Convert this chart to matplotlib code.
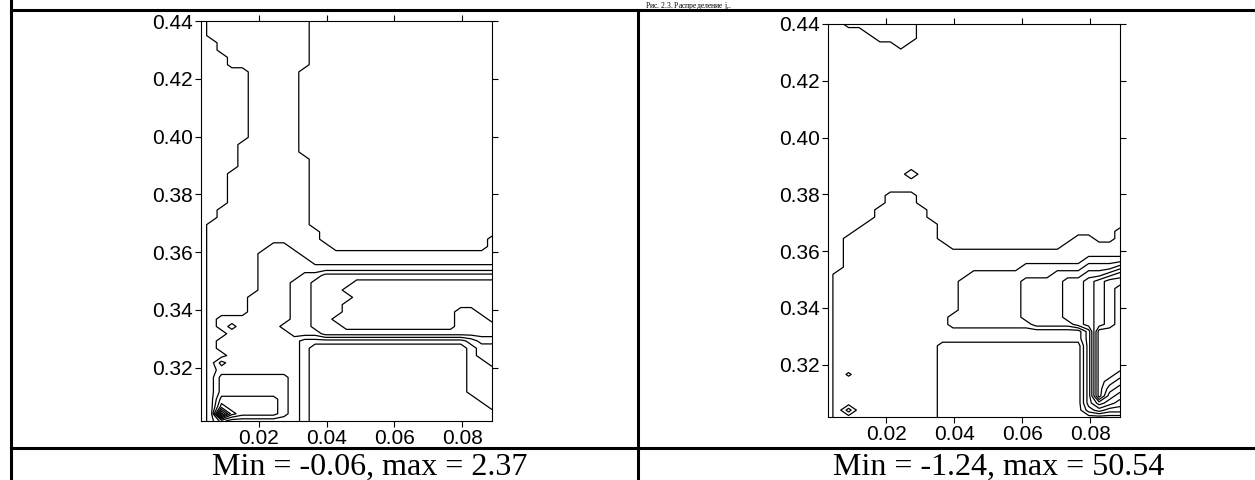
import numpy as np
import matplotlib
matplotlib.use("Agg")
import matplotlib.pyplot as plt
from matplotlib.lines import Line2D
from matplotlib.ticker import FixedLocator, FormatStrFormatter

plt.rcParams['font.family'] = ['Liberation Sans', 'DejaVu Sans']
plt.rcParams['mathtext.fontset'] = 'custom'
plt.rcParams['mathtext.rm'] = 'Liberation Serif'
plt.rcParams['mathtext.it'] = 'Liberation Serif:italic'

# Computational grid (29 columns in x, 56 rows in y).
x_grid = np.linspace(0.0028, 0.0888, 29)
y_grid = np.linspace(0.3015, 0.44, 56)

x_ticks = [0.02, 0.04, 0.06, 0.08]
y_ticks = [0.32, 0.34, 0.36, 0.38, 0.40, 0.42, 0.44]

title = "Рис. 2.3. Распределение j$_r$."
captions = ["Min = -0.06, max = 2.37", "Min = -1.24, max = 50.54"]

# Left map: one letter per grid node, top row first. Letter -> value.
left_bands = {'n': -0.06, 'o': 0.05, 's': 0.4, 'c': 0.6, 'd': 0.85,
              'e': 1.1, 'f': 1.35, 'j': 2.37}
left_levels = [0.25, 0.5, 0.75, 1.0, 1.25, 1.5, 1.75, 2.0, 2.25]
left_map = [
    "o" + "s" * 10 + "o" * 18,
    "o" + "s" * 10 + "o" * 18,
    "o" + "s" * 10 + "o" * 18,
    "oo" + "s" * 9 + "o" * 18,
    "oo" + "s" * 9 + "o" * 18,
    "ooo" + "s" * 8 + "o" * 18,
    "ooo" + "s" * 8 + "o" * 18,
    "ooooo" + "s" * 5 + "o" * 19,
    "ooooo" + "s" * 5 + "o" * 19,
    "ooooo" + "s" * 5 + "o" * 19,
    "ooooo" + "s" * 5 + "o" * 19,
    "ooooo" + "s" * 5 + "o" * 19,
    "ooooo" + "s" * 5 + "o" * 10 + "n" + "o" * 8,
    "ooooo" + "s" * 5 + "o" * 19,
    "ooooo" + "s" * 5 + "o" * 19,
    "ooooo" + "s" * 5 + "o" * 19,
    "ooooo" + "s" * 5 + "o" * 19,
    "oooo" + "s" * 6 + "o" * 19,
    "oooo" + "s" * 6 + "o" * 19,
    "oooo" + "s" * 7 + "o" * 18,
    "oooo" + "s" * 7 + "o" * 18,
    "ooo" + "s" * 8 + "o" * 18,
    "ooo" + "s" * 8 + "o" * 18,
    "ooo" + "s" * 8 + "o" * 18,
    "ooo" + "s" * 8 + "o" * 18,
    "ooo" + "s" * 8 + "o" * 18,
    "oo" + "s" * 9 + "o" * 18,
    "oo" + "s" * 9 + "o" * 18,
    "o" + "s" * 10 + "o" * 18,
    "o" + "s" * 11 + "o" * 17,
    "o" + "s" * 11 + "o" * 16 + "s",
    "o" + "s" * 6 + "cc" + "s" * 4 + "o" * 15 + "s",
    "o" + "s" * 5 + "c" * 4 + "s" * 19,
    "o" + "s" * 5 + "c" * 5 + "s" * 18,
    "o" + "s" * 5 + "c" * 23,
    "o" + "s" * 5 + "c" * 4 + "dd" + "e" * 17,
    "o" + "s" * 5 + "ccc" + "dd" + "eeee" + "f" * 14,
    "o" + "s" * 5 + "ccc" + "dd" + "eee" + "f" * 15,
    "o" + "s" * 4 + "cccc" + "dd" + "eeee" + "f" * 14,
    "o" + "s" * 4 + "cccc" + "dd" + "eee" + "f" * 15,
    "o" + "s" * 4 + "cccc" + "dd" + "eee" + "f" * 11 + "ee" + "ff",
    "os" + "c" * 7 + "dd" + "ee" + "f" * 12 + "eee" + "f",
    "os" + "cd" + "cccc" + "ddd" + "eee" + "f" * 11 + "eeee",
    "oss" + "c" * 6 + "ddd" + "e" * 17,
    "os" + "c" * 8 + "s" * 16 + "c" + "dd",
    "os" + "c" * 8 + "s" + "o" * 15 + "s" + "cc",
    "oss" + "c" * 7 + "s" + "o" * 15 + "s" + "cc",
    "osd" + "c" * 7 + "s" + "o" * 15 + "ss" + "c",
    "os" + "c" * 8 + "s" + "o" * 15 + "sss",
    "os" + "d" * 7 + "c" + "s" + "o" * 15 + "sss",
    "os" + "d" * 7 + "c" + "s" + "o" * 15 + "sss",
    "os" + "d" * 7 + "c" + "s" + "o" * 15 + "sss",
    "os" + "e" * 6 + "d" + "c" + "s" + "o" * 16 + "ss",
    "osf" + "e" * 5 + "d" + "c" + "s" + "o" * 17 + "s",
    "osjf" + "eeee" + "d" + "c" + "s" + "o" * 18,
    "osd" + "c" * 7 + "s" + "o" * 18,
]

# Right map, same layout.
right_bands = {'n': -1.24, 'a': -0.6, 'o': 0.0, 'p': 0.6, 'P': 0.85,
               'Q': 1.0, 'q': 1.2, 'r': 1.8, 's': 2.4, 't': 3.0,
               'u': 3.6, 'v': 4.2, 'w': 4.8, 'M': 50.54}
right_levels = [-0.3, 0.3, 0.9, 1.5, 2.1, 2.7, 3.3, 3.9, 4.5]
right_map = [
    "oo" + "a" * 7 + "o" * 20,
    "oooo" + "aa" + "n" + "aa" + "o" * 20,
    "o" * 5 + "a" * 4 + "o" * 20,
    "o" * 7 + "a" + "o" * 21,
] + ["o" * 29] * 17 + [
    "o" * 8 + "P" + "o" * 20,
    "o" * 29,
    "o" * 29,
    "o" * 6 + "p" * 3 + "o" * 20,
    "o" * 6 + "p" * 3 + "o" * 20,
    "o" * 5 + "p" * 5 + "o" * 19,
    "o" * 5 + "p" * 5 + "o" * 19,
    "o" * 4 + "p" * 7 + "o" * 18,
    "o" * 3 + "p" * 8 + "o" * 17 + "p",
    "o" * 2 + "p" * 9 + "o" * 13 + "pp" + "oo" + "p",
    "o" * 2 + "p" * 10 + "o" * 11 + "p" * 6,
    "o" * 2 + "p" * 27,
    "o" * 2 + "p" * 23 + "q" * 4,
    "o" * 2 + "p" * 17 + "q" * 6 + "rrr" + "s",
    "o" + "p" * 13 + "q" * 8 + "rrr" + "ss" + "tu",
    "o" + "p" * 12 + "q" * 6 + "rrrr" + "ss" + "tuvv",
    "o" + "p" * 12 + "q" * 6 + "rrrr" + "ss" + "tuvw",
    "o" + "p" * 12 + "q" * 6 + "rrrr" + "ss" + "tuvw",
    "o" + "p" * 12 + "q" * 6 + "rrrr" + "ss" + "tuvw",
    "o" + "p" * 12 + "q" * 6 + "rrrr" + "ss" + "tuvw",
    "o" + "p" * 11 + "q" * 7 + "rrrr" + "ss" + "tuvw",
    "o" + "p" * 11 + "q" * 8 + "rrrr" + "stuvw",
    "o" + "p" * 24 + "rwww",
    "o" + "p" * 24 + "rwww",
    "o" + "p" * 10 + "o" * 14 + "rwww",
    "o" + "p" * 10 + "o" * 14 + "rwMw",
    "o" + "p" * 10 + "o" * 14 + "rwww",
    "o" + "p" * 10 + "o" * 14 + "rwww",
    "opQ" + "p" * 8 + "o" * 14 + "rwwv",
    "o" + "p" * 10 + "o" * 14 + "rwvu",
    "o" + "p" * 10 + "o" * 14 + "rwut",
    "o" + "p" * 10 + "o" * 14 + "rwts",
    "o" + "p" * 10 + "o" * 14 + "rtsr",
    "opr" + "p" * 8 + "o" * 14 + "qrqq",
    "o" + "p" * 10 + "o" * 18,
]


def to_field(rows, bands):
    """Letter map (top row first) -> 2D array with rows going up in y."""
    assert len(rows) == len(y_grid), len(rows)
    for i, row in enumerate(rows):
        assert len(row) == len(x_grid), (i, len(row))
    field = np.array([[bands[ch] for ch in row] for row in rows])
    return field[::-1]


fig = plt.figure(figsize=(12.55, 4.8), dpi=100)
W, H = 1255.0, 480.0

# Axes placed in pixels: (left, top, right, bottom)
boxes = [(200.7, 21.0, 492.0, 421.0), (827.7, 24.0, 1120.0, 417.3)]
panels = [(left_map, left_bands, left_levels),
          (right_map, right_bands, right_levels)]

for (x0, y0, x1, y1), (rows, bands, levels) in zip(boxes, panels):
    ax = fig.add_axes([x0 / W, 1 - y1 / H, (x1 - x0) / W, (y1 - y0) / H])
    field = to_field(rows, bands)
    ax.contour(x_grid, y_grid, field, levels=levels, colors='black',
               linewidths=0.9, linestyles='solid')
    ax.set_xlim(0.0028, 0.0888)
    ax.set_ylim(0.3015, 0.44)
    ax.xaxis.set_major_locator(FixedLocator(x_ticks))
    ax.yaxis.set_major_locator(FixedLocator(y_ticks))
    ax.xaxis.set_major_formatter(FormatStrFormatter('%.2f'))
    ax.yaxis.set_major_formatter(FormatStrFormatter('%.2f'))
    ax.tick_params(direction='out', length=4, width=0.8, top=True,
                   right=True, labelsize=15, pad=1.5, colors='black')
    for sp in ax.spines.values():
        sp.set_linewidth(0.8)
        sp.set_color('black')

# Table frame around the two panels.
lw = 2.2
frame = [
    ([11, 11], [0, 480]),
    ([11, 1255], [10, 10]),
    ([638, 638], [10, 480]),
    ([11, 1255], [447.7, 447.7]),
]
for xs, ys in frame:
    fig.add_artist(Line2D([v / W for v in xs], [1 - v / H for v in ys],
                          transform=fig.transFigure, color='black', lw=lw))

serif = ['Liberation Serif', 'DejaVu Serif']
# The caption row above the table is only a thin strip in the page crop.
fig.text(688 / W, 1 - 0.5 / H, title, ha='center', va='top',
         family=serif, fontsize=5.5)
fig.text(370 / W, 5 / H, captions[0], ha='center', va='baseline',
         family=serif, fontsize=23)
fig.text(999 / W, 5 / H, captions[1], ha='center', va='baseline',
         family=serif, fontsize=23)

fig.savefig('out.png', dpi=100)
